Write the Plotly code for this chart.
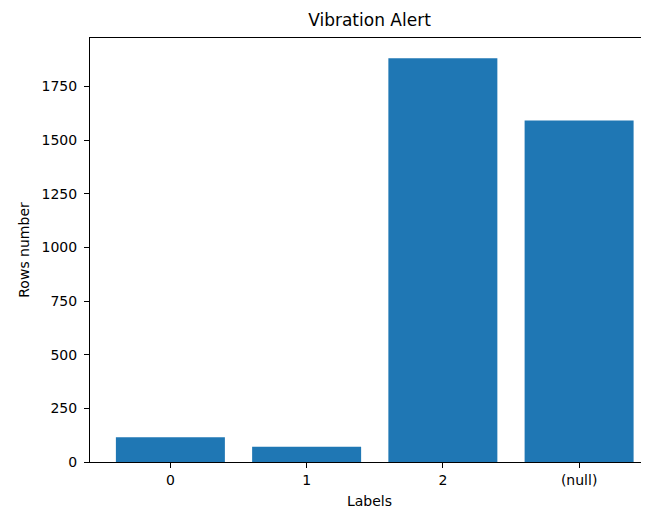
import plotly.graph_objects as go

categories = ["0", "1", "2", "(null)"]
rows_number = [115, 71, 1882, 1592]

fig = go.Figure(
    go.Bar(
        x=categories,
        y=rows_number,
        marker=dict(color="#1f77b4", line=dict(width=0)),
    )
)

font = "DejaVu Sans"
# the page body has an 8px margin, so the figure is 8px smaller and offsets are compensated
fig.update_layout(
    width=641,
    height=502,
    margin=dict(l=82, r=0, t=30, b=48, autoexpand=False),
    paper_bgcolor="white",
    plot_bgcolor="white",
    bargap=0.2,
    showlegend=False,
    font=dict(family=font, size=14, color="black"),
    title=dict(
        text="Vibration Alert",
        x=0.5,
        xref="paper",
        xanchor="center",
        y=1 - 12 / 502,
        yref="container",
        yanchor="middle",
        font=dict(family=font, size=17, color="black"),
    ),
)
fig.update_xaxes(
    type="category",
    range=[-0.59, 3.513],
    showline=True,
    linecolor="black",
    linewidth=1,
    mirror=True,
    ticks="outside",
    ticklen=5,
    tickcolor="black",
    showgrid=False,
    zeroline=False,
    title=dict(text="Labels", standoff=9, font=dict(family=font, size=14)),
    tickfont=dict(family=font, size=14),
)
fig.update_yaxes(
    range=[0, 1976],
    tickvals=[0, 250, 500, 750, 1000, 1250, 1500, 1750],
    showline=True,
    linecolor="black",
    linewidth=1,
    mirror=False,
    ticks="outside",
    ticklen=5,
    tickcolor="black",
    ticklabelstandoff=4,
    showgrid=False,
    zeroline=False,
    title=dict(text="Rows number", standoff=8, font=dict(family=font, size=14)),
    tickfont=dict(family=font, size=14),
)

fig.write_html("out.html")
